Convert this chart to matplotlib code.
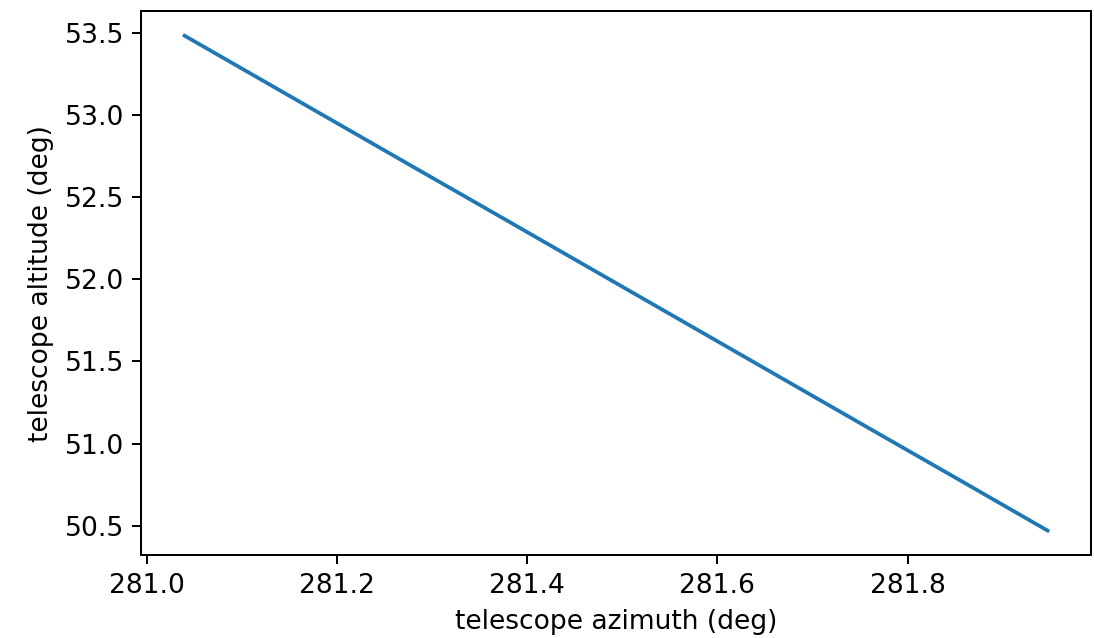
import matplotlib
matplotlib.use("Agg")
import matplotlib.pyplot as plt

# telescope pointing track
azimuth = [281.040, 281.120, 281.200, 281.280, 281.360, 281.440,
           281.520, 281.600, 281.680, 281.760, 281.840, 281.947]
altitude = [53.484, 53.218, 52.952, 52.686, 52.421, 52.155,
            51.889, 51.623, 51.357, 51.091, 50.826, 50.470]

plt.rcParams["font.size"] = 10.6

fig = plt.figure(figsize=(1094 / 180, 638 / 180), dpi=180)
ax = fig.add_axes([0.1293, 0.1296, 0.8677, 0.8532])
ax.plot(azimuth, altitude, color="#1f77b4", linewidth=1.5)
ax.set_xlabel("telescope azimuth (deg)")
ax.set_ylabel("telescope altitude (deg)")
ax.set_xticks([281.0, 281.2, 281.4, 281.6, 281.8])
ax.set_yticks([50.5, 51.0, 51.5, 52.0, 52.5, 53.0, 53.5])

fig.savefig("out.png", dpi=180)
